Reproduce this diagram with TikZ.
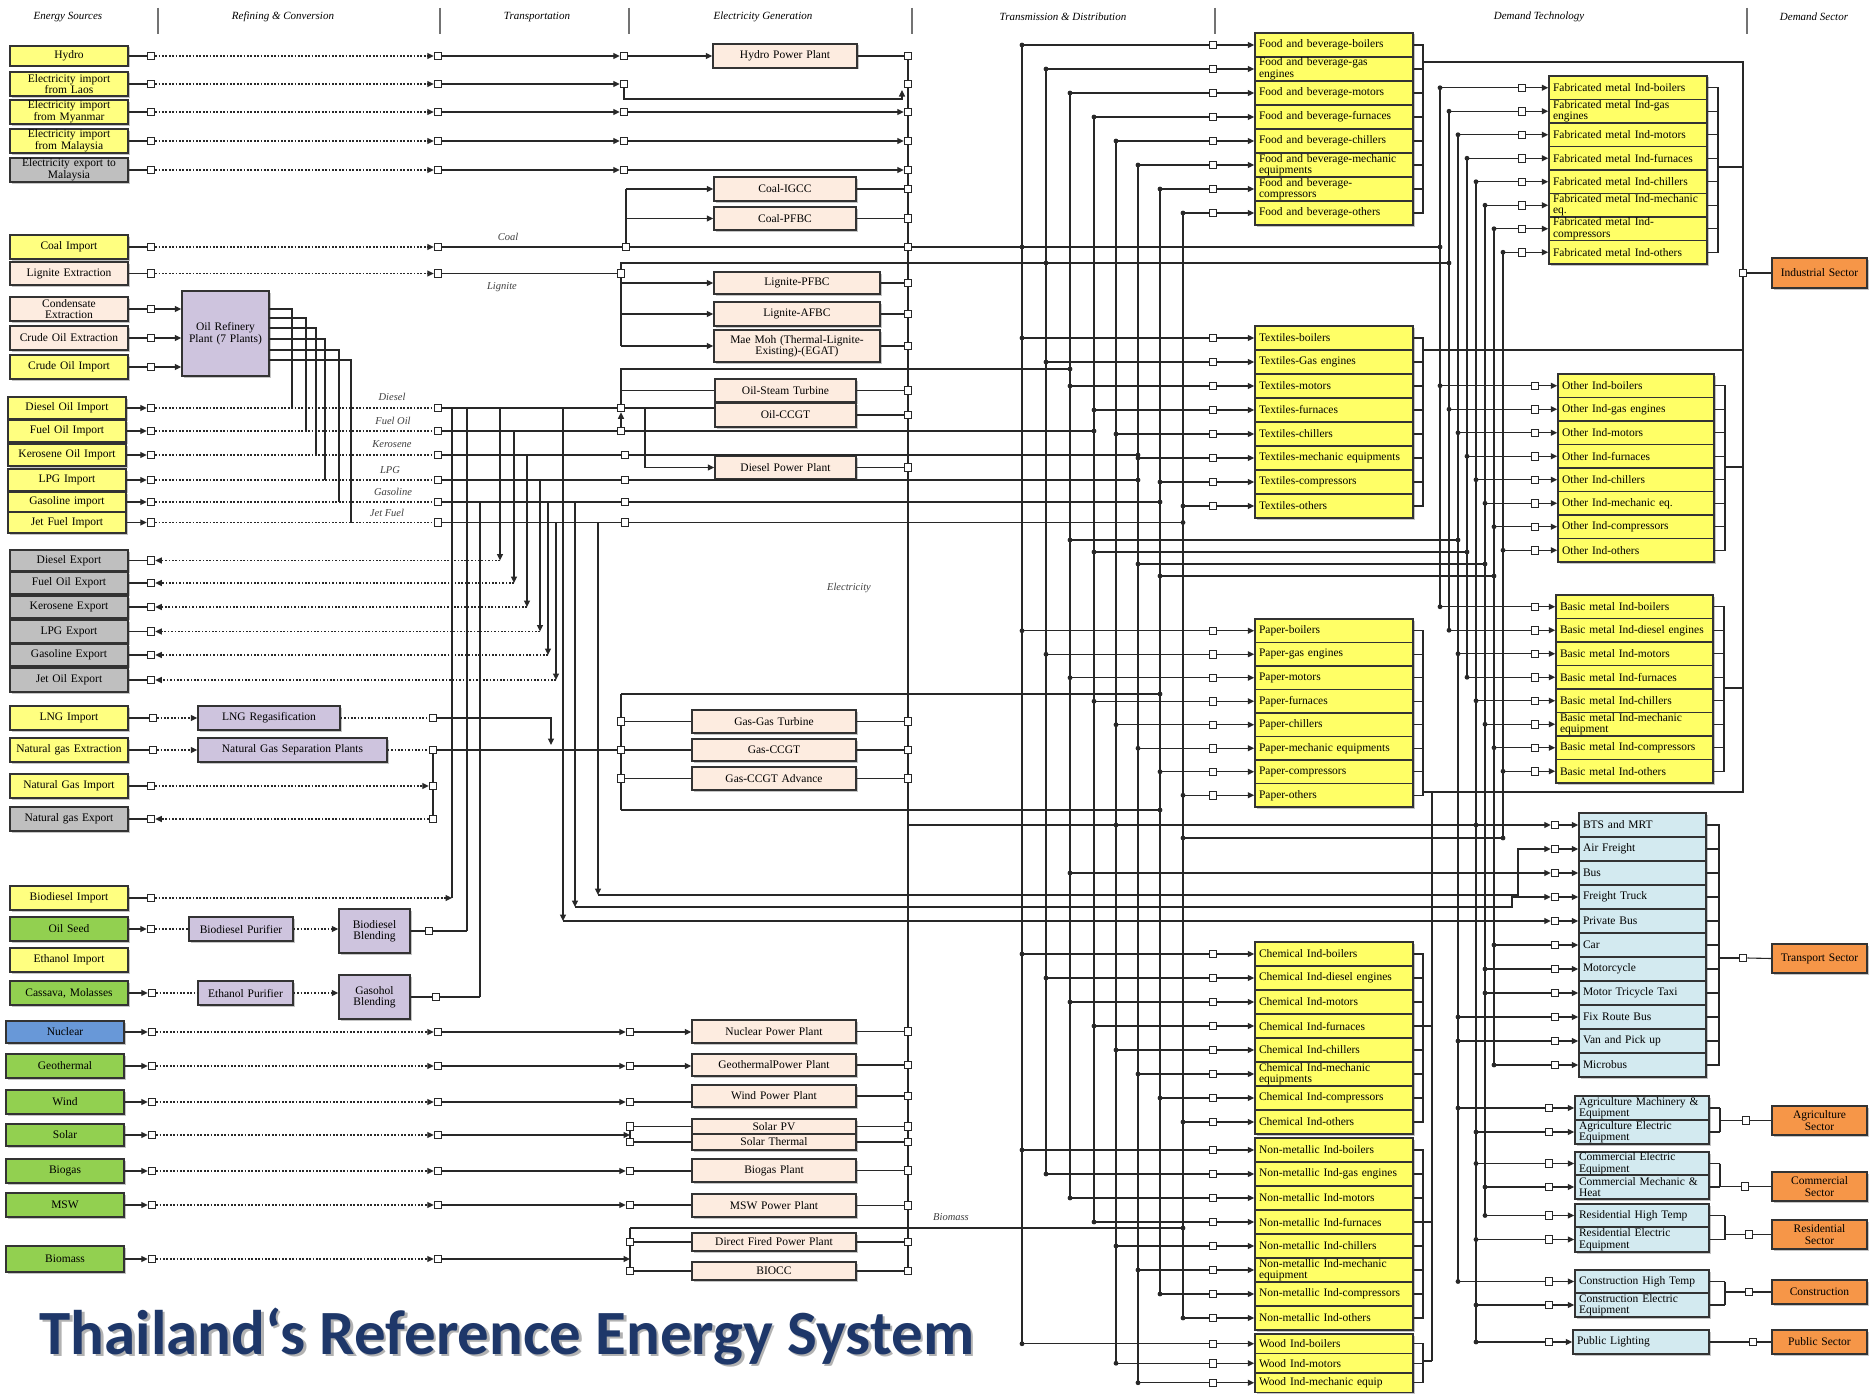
\documentclass[tikz,border=0pt]{standalone}
\usepackage{fontspec}
\setmainfont{Liberation Serif}
\newfontfamily\titlefont{Carlito}
\usetikzlibrary{arrows.meta,shadows}
\definecolor{cyel}{RGB}{255,255,128}
\definecolor{dyel}{RGB}{255,255,102}
\definecolor{cgray}{RGB}{191,191,191}
\definecolor{cpeach}{RGB}{253,236,224}
\definecolor{cpurp}{RGB}{206,196,222}
\definecolor{cgreen}{RGB}{146,208,80}
\definecolor{cblue}{RGB}{104,152,216}
\definecolor{clblue}{RGB}{211,234,240}
\definecolor{corange}{RGB}{246,150,72}
\definecolor{ctitle}{RGB}{30,55,105}
\definecolor{cline}{RGB}{40,40,40}
\tikzset{
  ln/.style={line width=1.1pt, draw=cline},
  dl/.style={line width=1.1pt, draw=cline, dash pattern=on 1.7pt off 1.7pt},
  tri/.style={-{Triangle[length=6.5pt,width=6pt]}},
  sq/.style={draw=cline, fill=white, line width=1pt, minimum size=7.5pt, inner sep=0pt, rectangle},
  bxs/.style={draw=black!80, line width=1.5pt, inner xsep=4pt, inner ysep=0pt, font=\fontsize{11.5}{11.5}\selectfont, align=center, rectangle, drop shadow={shadow xshift=1.5pt, shadow yshift=-1.5pt, fill=black!50, opacity=0.45}},
  ysrc/.style={bxs, fill=cyel},
  gsrc/.style={bxs, fill=cgray},
  psrc/.style={bxs, fill=cpeach},
  grsrc/.style={bxs, fill=cgreen},
  blsrc/.style={bxs, fill=cblue},
  pur/.style={bxs, fill=cpurp},
  plant/.style={bxs, fill=cpeach},
  dtbox/.style={bxs, fill=dyel, align=left, font=\fontsize{11.5}{11.5}\selectfont},
  trbox/.style={bxs, fill=clblue, align=left},
  sect/.style={bxs, fill=corange},
  hd/.style={font=\fontsize{11}{12}\selectfont\itshape},
  lab/.style={font=\fontsize{10.5}{11}\selectfont\itshape, text=black!75},
}
\newcommand\bx[7]{%
  \pgfmathsetmacro\bw{#5-(#3)}\pgfmathsetmacro\bh{#6-(#4)}%
  \pgfmathsetmacro\bcx{(#3+#5)/2}\pgfmathsetmacro\bcy{(#4+#6)/2}%
  \pgfmathsetmacro\btw{\bw-8}%
  \node[#2, minimum width=\bw pt, minimum height=\bh pt, text width=\btw pt] (#1) at (\bcx,\bcy) {#7};}
\newcommand\dotat[1]{\fill[cline] (#1) circle (2.4pt);}
% left industry block: prefix, top, row height, bus list, labels
\newcommand\lblock[5]{%
  \foreach \t [count=\k] in {#5} {%
    \pgfmathsetmacro\yy{#2+(\k-0.5)*#3}%
    \pgfmathsetmacro\bxx{{#4}[\k-1]}%
    \node[dtbox, minimum width=158pt, text width=150pt, minimum height=#3pt] (#1\k) at (1334,\yy) {\t};
    \node[sq] (#1s\k) at (1213,\yy) {};
    \coordinate (#1j\k) at (\bxx,\yy);
    \fill[cline] (#1j\k) circle (2.4pt);
    \draw[ln] (#1j\k) -- (#1s\k.west);
    \draw[ln,tri] (#1s\k.east) -- (#1\k.west);
    \draw[ln] (#1\k.east) -- ++(10,0);
  }}
% right industry block: prefix, top, rowh, buses, x1, x2, square x, labels
\newcommand\rblock[8]{%
  \pgfmathsetmacro\rcx{(#5+#6)/2}\pgfmathsetmacro\rw{#6-#5}\pgfmathsetmacro\rtw{#6-#5-8}%
  \foreach \t [count=\k] in {#8} {%
    \pgfmathsetmacro\yy{#2+(\k-0.5)*#3}%
    \pgfmathsetmacro\bxx{{#4}[\k-1]}%
    \node[dtbox, minimum width=\rw pt, text width=\rtw pt, minimum height=#3pt] (#1\k) at (\rcx,\yy) {\t};
    \node[sq] (#1s\k) at (#7,\yy) {};
    \coordinate (#1j\k) at (\bxx,\yy);
    \fill[cline] (#1j\k) circle (2.4pt);
    \draw[ln] (#1j\k) -- (#1s\k.west);
    \draw[ln,tri] (#1s\k.east) -- (#1\k.west);
    \draw[ln] (#1\k.east) -- ++(11,0);
  }}
\begin{document}
\begin{tikzpicture}[x=1pt,y=-1pt]
\fill[white] (0,0) rectangle (1874,1397);
\useasboundingbox (0,0) rectangle (1874,1397);

% ---------------- header
\foreach \x/\t [count=\i] in {68/Energy Sources, 283/Refining \& Conversion, 537/Transportation, 763/Electricity Generation, 1063/Transmission \& Distribution, 1539/Demand Technology, 1814/Demand Sector}
  \node[hd] (hdr\i) at (\x,17) {\t};
\foreach \x in {158,440,629,912,1215,1747}
  \draw[line width=1.8pt, black!55] (\x,8) -- (\x,34);

% ---------------- energy sources
\bx{hydro}{ysrc}{10}{46}{128}{66}{Hydro}
\bx{laos}{ysrc}{10}{72}{128}{96}{Electricity import\\from Laos}
\bx{myan}{ysrc}{10}{100}{128}{124}{Electricity import\\from Myanmar}
\bx{mala}{ysrc}{10}{129}{128}{153}{Electricity import\\from Malaysia}
\bx{expm}{gsrc}{10}{158}{128}{182}{Electricity export to\\Malaysia}
\bx{coal}{ysrc}{10}{235}{128}{259}{Coal Import}
\bx{lign}{psrc}{10}{262}{128}{285}{Lignite Extraction}
\bx{cond}{psrc}{10}{297}{128}{321}{Condensate\\Extraction}
\bx{crude}{psrc}{10}{326}{128}{350}{Crude Oil Extraction}
\bx{crimp}{ysrc}{10}{355}{128}{379}{Crude Oil Import}
\bx{dimp}{ysrc}{8}{397}{126}{419}{Diesel Oil Import}
\bx{fimp}{ysrc}{8}{420}{126}{442}{Fuel Oil Import}
\bx{kimp}{ysrc}{8}{444}{126}{466}{Kerosene Oil Import}
\bx{limp}{ysrc}{8}{469}{126}{491}{LPG Import}
\bx{gimp}{ysrc}{8}{492}{126}{512}{Gasoline import}
\bx{jimp}{ysrc}{8}{512}{126}{533}{Jet Fuel Import}
\bx{dexp}{gsrc}{10}{550}{128}{571}{Diesel Export}
\bx{fexp}{gsrc}{10}{572}{128}{594}{Fuel Oil Export}
\bx{kexp}{gsrc}{10}{596}{128}{618}{Kerosene Export}
\bx{lexp}{gsrc}{10}{620}{128}{643}{LPG Export}
\bx{gexp}{gsrc}{10}{644}{128}{666}{Gasoline Export}
\bx{jexp}{gsrc}{10}{668}{128}{692}{Jet Oil Export}
\bx{lngi}{ysrc}{10}{706}{128}{730}{LNG Import}
\bx{nge}{ysrc}{10}{738}{128}{762}{Natural gas Extraction}
\bx{ngi}{ysrc}{10}{774}{128}{798}{Natural Gas Import}
\bx{ngx}{gsrc}{10}{807}{128}{831}{Natural gas Export}
\bx{bdi}{ysrc}{10}{886}{128}{910}{Biodiesel Import}
\bx{oils}{grsrc}{10}{917}{128}{941}{Oil Seed}
\bx{eti}{ysrc}{10}{948}{128}{972}{Ethanol Import}
\bx{cass}{grsrc}{10}{981}{128}{1005}{Cassava, Molasses}
\bx{nuc}{blsrc}{6}{1021}{124}{1043}{Nuclear}
\bx{geo}{grsrc}{6}{1054}{124}{1078}{Geothermal}
\bx{wind}{grsrc}{6}{1090}{124}{1114}{Wind}
\bx{solar}{grsrc}{6}{1124}{124}{1146}{Solar}
\bx{biog}{grsrc}{6}{1159}{124}{1183}{Biogas}
\bx{mswb}{grsrc}{6}{1193}{124}{1217}{MSW}
\bx{biom}{grsrc}{6}{1246}{124}{1272}{Biomass}

% ---------------- conversion boxes
\bx{ref}{pur}{182}{291}{269}{376}{Oil Refinery\\Plant (7 Plants)}
\bx{lngr}{pur}{198}{706}{340}{730}{LNG Regasification}
\bx{ngsp}{pur}{198}{738}{387}{762}{Natural Gas Separation Plants}
\bx{bdp}{pur}{189}{917}{293}{941}{Biodiesel Purifier}
\bx{bdb}{pur}{339}{909}{410}{953}{Biodiesel\\Blending}
\bx{etp}{pur}{198}{981}{293}{1005}{Ethanol Purifier}
\bx{gsh}{pur}{339}{975}{410}{1019}{Gasohol\\Blending}

% ---------------- power plants
\bx{hpp}{plant}{713}{44}{857}{68}{Hydro Power Plant}
\bx{cigcc}{plant}{714}{177}{856}{201}{Coal-IGCC}
\bx{cpfbc}{plant}{714}{207}{856}{230}{Coal-PFBC}
\bx{lpfbc}{plant}{714}{272}{880}{294}{Lignite-PFBC}
\bx{lafbc}{plant}{714}{302}{880}{326}{Lignite-AFBC}
\bx{mae}{plant}{714}{330}{880}{362}{Mae Moh (Thermal-Lignite-\\Existing)-(EGAT)}
\bx{ost}{plant}{715}{379}{856}{402}{Oil-Steam Turbine}
\bx{occgt}{plant}{715}{403}{856}{427}{Oil-CCGT}
\bx{dpp}{plant}{715}{456}{856}{479}{Diesel Power Plant}
\bx{ggt}{plant}{692}{710}{856}{733}{Gas-Gas Turbine}
\bx{gcc}{plant}{692}{739}{856}{761}{Gas-CCGT}
\bx{gcca}{plant}{692}{767}{856}{790}{Gas-CCGT Advance}
\bx{npp}{plant}{692}{1020}{856}{1043}{Nuclear Power Plant}
\bx{gpp}{plant}{692}{1054}{856}{1076}{GeothermalPower Plant}
\bx{wpp}{plant}{692}{1085}{856}{1107}{Wind Power Plant}
\bx{spv}{plant}{692}{1119}{856}{1134}{Solar PV}
\bx{sth}{plant}{692}{1134}{856}{1150}{Solar Thermal}
\bx{bgp}{plant}{692}{1159}{856}{1182}{Biogas Plant}
\bx{mpp}{plant}{692}{1194}{856}{1217}{MSW Power Plant}
\bx{dfp}{plant}{692}{1233}{856}{1251}{Direct Fired Power Plant}
\bx{bio}{plant}{692}{1262}{856}{1280}{BIOCC}

% ---------------- sectors
\bx{ind}{sect}{1772}{258}{1867}{288}{Industrial Sector}
\bx{trs}{sect}{1772}{944}{1867}{973}{Transport Sector}
\bx{agr}{sect}{1772}{1106}{1867}{1135}{Agriculture\\Sector}
\bx{com}{sect}{1772}{1172}{1867}{1201}{Commercial\\Sector}
\bx{res}{sect}{1772}{1220}{1867}{1249}{Residential\\Sector}
\bx{con}{sect}{1772}{1280}{1867}{1304}{Construction}
\bx{pub}{sect}{1772}{1330}{1867}{1354}{Public Sector}

% ---------------- small demand boxes
\bx{agm}{trbox}{1575}{1096}{1709}{1120}{Agriculture Machinery \&\\Equipment}
\bx{age}{trbox}{1575}{1120}{1709}{1144}{Agriculture Electric\\Equipment}
\bx{cme}{trbox}{1575}{1152}{1709}{1175}{Commercial Electric\\Equipment}
\bx{cmm}{trbox}{1575}{1175}{1709}{1199}{Commercial Mechanic \&\\Heat}
\bx{rsh}{trbox}{1575}{1204}{1709}{1227}{Residential High Temp}
\bx{rse}{trbox}{1575}{1227}{1709}{1252}{Residential Electric\\Equipment}
\bx{csh}{trbox}{1575}{1270}{1709}{1293}{Construction High Temp}
\bx{cse}{trbox}{1575}{1293}{1709}{1317}{Construction Electric\\Equipment}
\bx{pbl}{trbox}{1573}{1330}{1709}{1354}{Public Lighting}

% ---------------- top electricity rows
\foreach \n/\y [count=\i] in {hydro/56, laos/84, myan/112, mala/141, expm/170} {
  \node[sq] (qa\i) at (151,\y) {};
  \node[sq] (qb\i) at (438,\y) {};
  \node[sq] (qc\i) at (624,\y) {};
  \draw[ln] (\n.east) -- (qa\i.west);
  \draw[dl,tri] (qa\i.east) -- (qb\i.west);
  \draw[ln,tri] (qb\i.east) -- (qc\i.west);
}
% generation bus
\draw[ln] (908,56) -- (908,1271);
\foreach \y [count=\i] in {56,84,112,141,170,189,218.5,247,283,314,346,390.5,415,467.5,721.5,750,778.5,1031.5,1065,1096,1126.5,1142,1170.5,1205.5,1242,1271}
  \node[sq] (gb\i) at (908,\y) {};
\draw[ln,tri] (qc1.east) -- (hpp.west);
\coordinate (lzc) at (902,99);
\draw[ln,tri] (qc2.south) |- (lzc) -- ++(0,-9);
\draw[ln,tri] (qc3.east) -- (gb3.west);
\draw[ln,tri] (qc4.east) -- (gb4.west);
\draw[ln,tri] (qc5.east) -- (gb5.west);
\foreach \p/\i in {hpp/1, cigcc/6, cpfbc/7, lpfbc/9, lafbc/10, mae/11, ost/12, occgt/13, dpp/14, ggt/15, gcc/16, gcca/17, npp/18, gpp/19, wpp/20, spv/21, sth/22, bgp/23, mpp/24, dfp/25, bio/26}
  \draw[ln] (\p.east) -- (\p.east -| gb\i.west);

% ---------------- coal & lignite
\node[sq] (qa6) at (151,247) {};
\node[sq] (qb6) at (438,247) {};
\node[sq] (qc6) at (626,247) {};
\draw[ln] (coal.east) -- (qa6.west);
\draw[dl,tri] (qa6.east) -- (qb6.west);
\draw[ln] (qb6.east) -- (qc6.west);
\draw[ln] (qc6.east) -- (gb8.west);
\draw[ln] (qc6.north) -- (626,189);
\draw[ln,tri] (626,189) -- (cigcc.west);
\draw[ln,tri] (626,218.5) -- (cpfbc.west);
\node[lab] (lcoal) at (508,237) {Coal};
\node[sq] (qa7) at (151,273.5) {};
\node[sq] (qb7) at (438,273.5) {};
\node[sq] (qc7) at (621,273.5) {};
\draw[ln] (lign.east) -- (qa7.west);
\draw[dl,tri] (qa7.east) -- (qb7.west);
\draw[ln] (qb7.east) -- (qc7.west);
\draw[ln] (qc7.north) -- (621,263) -- (1449,263);
\draw[ln] (qc7.south) -- (621,346);
\draw[ln,tri] (621,283) -- (lpfbc.west);
\draw[ln,tri] (621,314) -- (lafbc.west);
\draw[ln,tri] (621,346) -- (mae.west);
\node[lab] (llig) at (502,287) {Lignite};

% ---------------- refinery
\foreach \n/\y/\i in {cond/309/8, crude/338/9, crimp/367/10} {
  \node[sq] (qa\i) at (151,\y) {};
  \draw[ln] (\n.east) -- (qa\i.west);
  \draw[ln,tri] (qa\i.east) -- (qa\i.east -| ref.west);
}
\foreach \yy/\xx/\ye in {309/292/408, 318/306/431, 328/316/455, 339/325/480, 350/339/502, 360/351/522.5}
  \draw[ln] (269,\yy) -- (\xx,\yy) -- (\xx,\ye);

% ---------------- oil products
\foreach \n/\y/\i in {dimp/408/1, fimp/431/2, kimp/455/3, limp/480/4, gimp/502/5, jimp/522.5/6} {
  \node[sq] (qo\i) at (151,\y) {};
  \node[sq] (qp\i) at (438,\y) {};
  \draw[ln,tri] (\n.east) -- (qo\i.west);
  \draw[dl] (qo\i.east) -- (qp\i.west);
}
\foreach \x/\y/\t [count=\i] in {392/397/Diesel, 393/421/Fuel Oil, 392/444/Kerosene, 390/470/LPG, 393/492/Gasoline, 387/513/Jet Fuel}
  \node[lab] (lo\i) at (\x,\y) {\t};
\node[sq] (qd) at (621,408) {};
\node[sq] (qf) at (621,431) {};
\draw[ln] (qp1.east) -- (qd.west);
\draw[ln] (qd.east) -- (qd.east -| occgt.west);
\draw[ln] (qp2.east) -- (qf.west);
\draw[ln] (qf.east) -- (1094,431);
\draw[ln,tri] (qf.north) -- (qd.south);
\draw[ln] (qd.north) -- (621,369) -- (1070,369);
\draw[ln] (621,390.5) -- (ost.west);
\draw[ln,tri] (645,408) |- (dpp.west);
\foreach \i/\y/\b in {3/455/1138, 4/480/1138, 5/502/1160, 6/522.5/1183} {
  \node[sq] (qq\i) at (625,\y) {};
  \draw[ln] (qp\i.east) -- (qq\i.west);
  \draw[ln] (qq\i.east) -- (\b,\y);
  \fill[cline] (\b,\y) circle (2.4pt);
}
% export drops
\foreach \x/\a/\b/\n [count=\i] in {500/408/560.5/dexp, 514/431/583/fexp, 527/455/607/kexp, 540/480/631.5/lexp, 548/502/655/gexp, 556/522.5/680/jexp} {
  \node[sq] (qe\i) at (151,\b) {};
  \draw[ln] (\n.east) -- (qe\i.west);
  \draw[ln,tri] (\x,\a) -- (\x,\b);
  \draw[dl,tri] (\x,\b) -- (qe\i.east);
}
% blending / transport drops
\draw[ln] (452,408) -- (452,898);
\draw[ln] (467,408) -- (467,931);
\draw[ln] (480,502) -- (480,997);
\draw[ln,tri] (563,408) -- (563,921);
\draw[ln,tri] (575,502) -- (575,907);
\draw[ln,tri] (598,522.5) -- (598,895);

% ---------------- natural gas
\node[sq] (qn1) at (153,718) {};
\draw[ln] (lngi.east) -- (qn1.west);
\draw[dl,tri] (qn1.east) -- (lngr.west);
\node[sq] (qn2) at (433,718) {};
\draw[dl] (lngr.east) -- (qn2.west);
\draw[ln,tri] (qn2.east) -- (551,718) -- (551,745);
\node[sq] (qn3) at (153,750) {};
\draw[ln] (nge.east) -- (qn3.west);
\draw[dl,tri] (qn3.east) -- (ngsp.west);
\node[sq] (qn4) at (433,750) {};
\node[sq] (qn5) at (621,750) {};
\draw[dl] (ngsp.east) -- (qn4.west);
\draw[ln] (qn4.east) -- (qn5.west);
\draw[ln] (qn5.east) -- (gcc.west);
\node[sq] (qn6) at (151,786) {};
\node[sq] (qn7) at (433,786) {};
\draw[ln] (ngi.east) -- (qn6.west);
\draw[dl,tri] (qn6.east) -- (qn7.west);
\node[sq] (qn8) at (151,819) {};
\node[sq] (qn9) at (433,819) {};
\draw[ln] (ngx.east) -- (qn8.west);
\draw[dl,tri] (qn9.west) -- (qn8.east);
\draw[ln] (qn4.south) -- (qn7.north);
\draw[ln] (qn7.south) -- (qn9.north);
\node[sq] (qn10) at (621,721.5) {};
\node[sq] (qn11) at (621,778.5) {};
\draw[ln] (qn10.east) -- (ggt.west);
\draw[ln] (qn11.east) -- (gcca.west);
\draw[ln] (621,694) -- (qn10.north);
\draw[ln] (qn10.south) -- (qn5.north);
\draw[ln] (qn5.south) -- (qn11.north);
\draw[ln] (qn11.south) -- (621,810);
\draw[ln] (621,694) -- (1160,694);
\draw[ln] (621,810) -- (1160,810);
\dotat{1160,694}
\dotat{1160,810}

% ---------------- biofuels
\node[sq] (qb8) at (151,898) {};
\draw[ln] (bdi.east) -- (qb8.west);
\draw[dl,tri] (qb8.east) -- (452,898);
\node[sq] (qs1) at (151,929) {};
\draw[ln,tri] (oils.east) -- (qs1.west);
\draw[dl] (qs1.east) -- (bdp.west);
\draw[dl,tri] (bdp.east) -- (bdp.east -| bdb.west);
\node[sq] (qs2) at (429,931) {};
\draw[ln] (bdb.east) -- (qs2.west);
\draw[ln] (qs2.east) -- (467,931);
\node[sq] (qs3) at (152,993) {};
\draw[ln,tri] (cass.east) -- (qs3.west);
\draw[dl] (qs3.east) -- (etp.west);
\draw[dl,tri] (etp.east) -- (etp.east -| gsh.west);
\node[sq] (qs4) at (436,997) {};
\draw[ln] (gsh.east) -- (qs4.west);
\draw[ln] (qs4.east) -- (480,997);

% ---------------- renewables
\foreach \n/\y [count=\i] in {nuc/1032, geo/1066, wind/1102, solar/1135, biog/1171, mswb/1205, biom/1259} {
  \node[sq] (qr\i) at (152,\y) {};
  \node[sq] (qx\i) at (438,\y) {};
  \draw[ln,tri] (\n.east) -- (qr\i.west);
  \draw[dl,tri] (qr\i.east) -- (qx\i.west);
}
\foreach \i/\y in {1/1032, 2/1066, 3/1102, 5/1171, 6/1205} {
  \node[sq] (qy\i) at (630,\y) {};
  \draw[ln,tri] (qx\i.east) -- (qy\i.west);
}
\draw[ln,tri] (qy1.east) -- (qy1.east -| npp.west);
\draw[ln,tri] (qy2.east) -- (qy2.east -| gpp.west);
\draw[ln] (qy3.east) -- (qy3.east -| wpp.west);
\draw[ln] (qy5.east) -- (qy5.east -| bgp.west);
\draw[ln] (qy6.east) -- (qy6.east -| mpp.west);
\node[sq] (qy4a) at (630,1126.5) {};
\node[sq] (qy4b) at (630,1142) {};
\draw[ln] (qy4a.south) -- (qy4b.north);
\draw[ln,tri] (qx4.east) -- (630,1135);
\draw[ln] (qy4a.east) -- (spv.west);
\draw[ln] (qy4b.east) -- (sth.west);
\node[sq] (qy7a) at (630,1242) {};
\node[sq] (qy7b) at (630,1271) {};
\draw[ln] (630,1228) -- (qy7a.north);
\draw[ln] (qy7a.south) -- (qy7b.north);
\draw[ln,tri] (qx7.east) -- (630,1259);
\draw[ln] (qy7a.east) -- (dfp.west);
\draw[ln] (qy7b.east) -- (bio.west);
\draw[ln] (630,1228) -- (1183,1228);
\dotat{1183,1228}
\node[lab] (lbio) at (951,1217) {Biomass};
\node[lab] (lele) at (849,588) {Electricity};

% ---------------- T&D buses
\foreach \x/\a/\b in {1022/45/1343.75, 1046/69/1174, 1070/93/1198, 1094/117/1222, 1116/141/1363.25, 1138/165/1382.75, 1160/189/1294, 1183/213/1318}
  \draw[ln] (\x,\a) -- (\x,\b);
\foreach \x/\a/\b in {1440/87.75/606.75, 1449/111.25/630.25, 1458/134.75/1281.5, 1467/158.25/677.25, 1476/181.75/1342, 1485/205.25/1215.5, 1494/228.75/1065, 1503/252.25/838}
  \draw[ln] (\x,\a) -- (\x,\b);
\draw[ln] (gb8.east) -- (1440,247);
\dotat{1022,247} \dotat{1440,247}
\dotat{1046,263} \dotat{1449,263}
\dotat{1070,369} \dotat{1094,431}
\foreach \a/\b/\y in {1070/1458/540, 1094/1467/552, 1138/1485/564, 1160/1494/576, 1183/1503/838} {
  \draw[ln] (\a,\y) -- (\b,\y);
  \fill[cline] (\a,\y) circle (2.4pt);
  \fill[cline] (\b,\y) circle (2.4pt);
}

% ---------------- left demand technology blocks
\lblock{fd}{33}{24}{1022,1046,1070,1094,1116,1138,1160,1183}{Food and beverage-boilers, {Food and beverage-gas\\engines}, Food and beverage-motors, Food and beverage-furnaces, Food and beverage-chillers, {Food and beverage-mechanic\\equipments}, {Food and beverage-\\compressors}, Food and beverage-others}
\lblock{tx}{326}{24}{1022,1046,1070,1094,1116,1138,1160,1183}{Textiles-boilers, Textiles-Gas engines, Textiles-motors, Textiles-furnaces, Textiles-chillers, Textiles-mechanic equipments, Textiles-compressors, Textiles-others}
\lblock{pp}{619}{23.5}{1022,1046,1070,1094,1116,1138,1160,1183}{Paper-boilers, Paper-gas engines, Paper-motors, Paper-furnaces, Paper-chillers, Paper-mechanic equipments, Paper-compressors, Paper-others}
\lblock{ch}{942}{24}{1022,1046,1070,1094,1116,1138,1160,1183}{Chemical Ind-boilers, Chemical Ind-diesel engines, Chemical Ind-motors, Chemical Ind-furnaces, Chemical Ind-chillers, {Chemical Ind-mechanic\\equipments}, Chemical Ind-compressors, Chemical Ind-others}
\lblock{nm}{1138}{24}{1022,1046,1070,1094,1116,1138,1160,1183}{Non-metallic Ind-boilers, Non-metallic Ind-gas engines, Non-metallic Ind-motors, Non-metallic Ind-furnaces, Non-metallic Ind-chillers, {Non-metallic Ind-mechanic\\equipment}, Non-metallic Ind-compressors, Non-metallic Ind-others}
\lblock{wd}{1334}{19.5}{1022,1116,1138}{Wood Ind-boilers, Wood Ind-motors, Wood Ind-mechanic equip}
\draw[ln] (1423,45) -- (1423,213);
\draw[ln] (1423,338) -- (1423,506);
\draw[ln] (1423,630.75) -- (1423,795.25);
\draw[ln] (1423,954) -- (1423,1122);
\draw[ln] (1423,1150) -- (1423,1318);
\draw[ln] (1423,1343.75) -- (1423,1382.75);

% ---------------- right demand technology blocks
\rblock{fb}{76}{23.5}{1440,1449,1458,1467,1476,1485,1494,1503}{1549}{1707}{1522}{Fabricated metal Ind-boilers, {Fabricated metal Ind-gas\\engines}, Fabricated metal Ind-motors, Fabricated metal Ind-furnaces, Fabricated metal Ind-chillers, {Fabricated metal Ind-mechanic\\eq.}, {Fabricated metal Ind-\\compressors}, Fabricated metal Ind-others}
\rblock{ot}{374}{23.5}{1440,1449,1458,1467,1476,1485,1494,1503}{1558}{1714}{1535}{Other Ind-boilers, Other Ind-gas engines, Other Ind-motors, Other Ind-furnaces, Other Ind-chillers, Other Ind-mechanic eq., Other Ind-compressors, Other Ind-others}
\rblock{bm}{595}{23.5}{1440,1449,1458,1467,1476,1485,1494,1503}{1556}{1713}{1535}{Basic metal Ind-boilers, Basic metal Ind-diesel engines, Basic metal Ind-motors, Basic metal Ind-furnaces, Basic metal Ind-chillers, {Basic metal Ind-mechanic\\equipment}, Basic metal Ind-compressors, Basic metal Ind-others}
\draw[ln] (1718,87.75) -- (1718,252.25);
\draw[ln] (1725,385.75) -- (1725,550.25);
\draw[ln] (1724,606.75) -- (1724,771.25);

% ---------------- industrial frame
\draw[ln] (1423,62) -- (1743,62) -- (1743,792) -- (1423,792);
\draw[ln] (1423,350) -- (1743,350);
\draw[ln] (1718,167) -- (1743,167);
\draw[ln] (1725,467) -- (1743,467);
\draw[ln] (1724,688) -- (1743,688);
\draw[ln] (1432,792) -- (1432,1361);
\draw[ln] (1423,1026) -- (1432,1026);
\draw[ln] (1423,1222) -- (1432,1222);
\draw[ln] (1423,1361) -- (1432,1361);
\node[sq] (qind) at (1743,273) {};
\draw[ln] (qind.east) -- (ind.west);

% ---------------- transport
\foreach \t [count=\k] in {BTS and MRT, Air Freight, Bus, Freight Truck, Private Bus, Car, Motorcycle, Motor Tricycle Taxi, Fix Route Bus, Van and Pick up, Microbus} {
  \pgfmathsetmacro\yy{813+(\k-0.5)*24}
  \node[trbox, minimum width=127pt, text width=119pt, minimum height=24pt] (tr\k) at (1642.5,\yy) {\t};
  \node[sq] (qt\k) at (1555,\yy) {};
  \draw[ln,tri] (qt\k.east) -- (tr\k.west);
  \draw[ln] (tr\k.east) -- ++(13,0);
}
\draw[ln] (1719,825) -- (1719,1065);
\node[sq] (qts) at (1743,958) {};
\draw[ln] (1719,958) -- (qts.west);
\draw[ln] (qts.east) -- (trs.west);
\coordinate (elo) at (908,825);
\draw[ln,tri] (elo) -- (qt1.west);
\dotat{1116,825} \dotat{1476,825}
\draw[ln,tri] (598,895) -- (1518,895) |- (qt2.west);
\draw[ln,tri] (1070,873) -- (qt3.west);
\dotat{1070,873}
\draw[ln,tri] (575,907) -- (1512,907) |- (qt4.west);
\draw[ln,tri] (563,921) -- (qt5.west);
\foreach \k/\b in {6/1494, 7/1485, 8/1485, 9/1458, 10/1458, 11/1494} {
  \coordinate (tj\k) at (qt\k.west -| \b,0);
  \fill[cline] (tj\k) circle (2.4pt);
  \draw[ln] (tj\k) -- (qt\k.west);
}

% ---------------- other sectors
\foreach \n/\b in {agm/1458, age/1476, cme/1476, cmm/1485, rsh/1485, rse/1476, csh/1458, cse/1476, pbl/1476} {
  \coordinate (j\n) at (\n.west -| \b,0);
  \fill[cline] (j\n) circle (2.4pt);
  \node[sq] (q\n) at (\n.west -| 1549,0) {};
  \draw[ln] (j\n) -- (q\n.west);
  \draw[ln,tri] (q\n.east) -- (\n.west);
}
\foreach \n/\x in {agm/1720, age/1720, cme/1720, cmm/1720, rsh/1725, rse/1725, csh/1725, cse/1725}
  \draw[ln] (\n.east) -- (\n.east -| \x,0);
\draw[ln] (1720,1108) -- (1720,1132);
\draw[ln] (1720,1163.5) -- (1720,1187);
\draw[ln] (1725,1215.5) -- (1725,1239.5);
\draw[ln] (1725,1281.5) -- (1725,1305);
\node[sq] (qagr) at (1746,1120.5) {};
\node[sq] (qcom) at (1745,1186.5) {};
\node[sq] (qres) at (1749,1234.5) {};
\node[sq] (qcon) at (1749,1292) {};
\node[sq] (qpub) at (1753,1342) {};
\draw[ln] (1720,1120.5) -- (qagr.west);
\draw[ln] (qagr.east) -- (agr.west);
\draw[ln] (1720,1186.5) -- (qcom.west);
\draw[ln] (qcom.east) -- (com.west);
\draw[ln] (1725,1234.5) -- (qres.west);
\draw[ln] (qres.east) -- (res.west);
\draw[ln] (1725,1292) -- (qcon.west);
\draw[ln] (qcon.east) -- (con.west);
\draw[ln] (pbl.east) -- (qpub.west);
\draw[ln] (qpub.east) -- (pub.west);

% ---------------- title
\node[font={\titlefont\bfseries\fontsize{63}{70}\selectfont}, text=black!30, anchor=base west] (tshadow) at (38.5,1356.5) {Thailand‘s Reference Energy System};
\node[font={\titlefont\bfseries\fontsize{63}{70}\selectfont}, text=ctitle, anchor=base west] (title) at (36,1354) {Thailand‘s Reference Energy System};
\end{tikzpicture}
\end{document}
